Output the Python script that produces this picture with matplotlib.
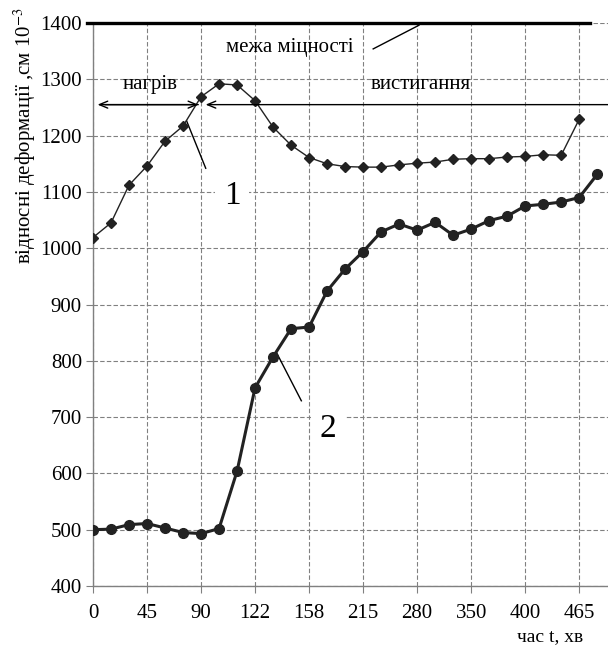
import matplotlib
matplotlib.use("Agg")
import matplotlib.pyplot as plt
import numpy as np

# tick labels on the time axis (one label every 3 measurements)
time_ticks = ["0", "45", "90", "122", "158", "215", "280", "350", "400", "465"]

# curve 1 - thin line, diamonds
strain_1 = [1019, 1045, 1112, 1146, 1190, 1217, 1269, 1292, 1290, 1262,
            1215, 1183, 1161, 1150, 1145, 1144, 1144, 1148, 1151, 1153,
            1158, 1159, 1159, 1162, 1163, 1166, 1165, 1229]

# curve 2 - thick line, circles
strain_2 = [500, 501, 509, 511, 503, 495, 493, 502, 604, 752,
            807, 857, 860, 924, 963, 994, 1029, 1043, 1032, 1046,
            1023, 1034, 1049, 1057, 1075, 1078, 1082, 1090, 1131]

strength_limit = 1400
phase_level = 1255

plt.rcParams['font.family'] = ['Liberation Serif', 'DejaVu Serif']
plt.rcParams['mathtext.fontset'] = 'stix'

fig = plt.figure(figsize=(6.08, 6.48), dpi=100)
ax = fig.add_axes([93 / 608, 62 / 648, 515 / 608, 563 / 648])

x1 = np.arange(len(strain_1))
x2 = np.arange(len(strain_2))

ax.plot(x1, strain_1, color='#222222', lw=1.0, marker='D', ms=5, zorder=3)
ax.plot(x2, strain_2, color='#222222', lw=2.2, marker='o', ms=7, zorder=3)

ax.set_xlim(0, 28.6)
ax.set_ylim(400, 1400)
ax.set_xticks(np.arange(0, 3 * len(time_ticks), 3))
ax.set_xticklabels(time_ticks)
ax.set_yticks(np.arange(400, 1401, 100))

ax.grid(True, color='#808080', linestyle=(0, (4, 2)), lw=0.8)
ax.set_axisbelow(True)
for s in ['top', 'right']:
    ax.spines[s].set_visible(False)
for s in ['left', 'bottom']:
    ax.spines[s].set_color('#808080')
    ax.spines[s].set_linewidth(1.0)
ax.tick_params(axis='both', colors='#808080', labelcolor='black', labelsize=15, length=5)
ax.tick_params(axis='x', pad=8)
ax.tick_params(axis='y', pad=3)

# strength limit line
ax.plot([-0.35, 27.6], [strength_limit, strength_limit], color='black', lw=2.4,
        clip_on=False, zorder=4)
ax.text(10.9, 1357, "межа міцності", fontsize=15, ha='center', va='center')
ax.plot([15.56, 18.1], [1354, 1396], color='black', lw=1.0)

# heating / cooling arrows
ax.annotate('', xy=(0.1, phase_level), xytext=(6.0, phase_level),
            arrowprops=dict(arrowstyle='->,head_length=0.6,head_width=0.25', color='black', lw=1.0))
ax.annotate('', xy=(6.0, phase_level), xytext=(0.5, phase_level),
            arrowprops=dict(arrowstyle='->,head_length=0.6,head_width=0.25', color='black', lw=1.0))
ax.annotate('', xy=(6.1, phase_level), xytext=(28.8, phase_level),
            arrowprops=dict(arrowstyle='->,head_length=0.6,head_width=0.25', color='black', lw=1.0),
            annotation_clip=False)
ax.text(3.2, 1290, "нагрів", fontsize=15, ha='center', va='center')
ax.text(18.2, 1290, "вистигання", fontsize=15, ha='center', va='center')

# curve labels
ax.plot([5.2, 6.26], [1226, 1142], color='black', lw=1.0)
ax.text(7.72, 1094, "1", fontsize=24, ha='center', va='center', zorder=5,
        bbox=dict(facecolor='white', edgecolor='none', pad=6))
ax.plot([10.2, 11.57], [814, 729], color='black', lw=1.0)
ax.text(13.06, 680, "2", fontsize=24, ha='center', va='center', zorder=5,
        bbox=dict(facecolor='white', edgecolor='none', pad=6))

fig.text(25 / 608, 1 - 136 / 648, "відносні деформації ,см 10$^{-3}$", rotation=90,
         fontsize=15, ha='center', va='center')
fig.text(550 / 608, 1 - 637 / 648, "час t, хв", fontsize=14, ha='center', va='center')

fig.savefig("out.png", dpi=100)
